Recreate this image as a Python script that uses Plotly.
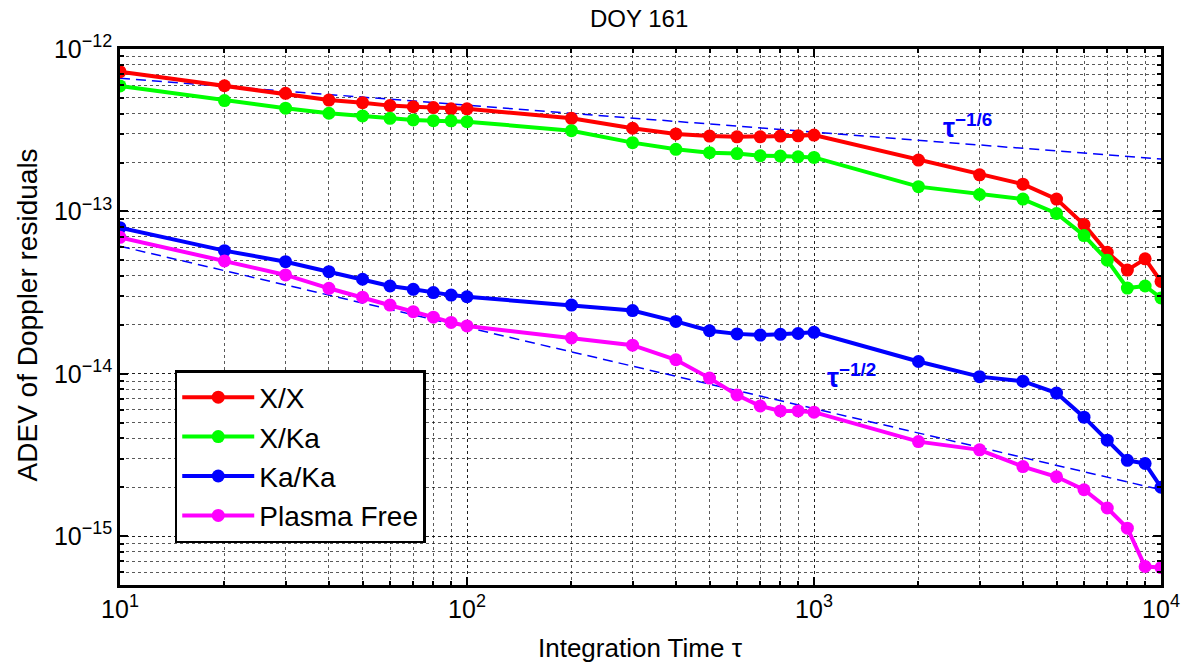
import plotly.graph_objects as go

tau = [10, 20, 30, 40, 50, 60, 70, 80, 90, 100, 200, 300, 400, 500, 600, 700, 800, 900,
       1000, 2000, 3000, 4000, 5000, 6000, 7000, 8000, 9000, 10000]

adev_xx = [7.25e-13, 5.94e-13, 5.33e-13, 4.85e-13, 4.67e-13, 4.48e-13, 4.41e-13, 4.36e-13,
           4.28e-13, 4.28e-13, 3.74e-13, 3.25e-13, 3.00e-13, 2.91e-13, 2.88e-13, 2.88e-13,
           2.91e-13, 2.92e-13, 2.95e-13, 2.07e-13, 1.68e-13, 1.47e-13, 1.19e-13, 8.3e-14,
           5.6e-14, 4.35e-14, 5.1e-14, 3.7e-14]
adev_xka = [5.92e-13, 4.81e-13, 4.32e-13, 4.02e-13, 3.87e-13, 3.74e-13, 3.66e-13, 3.62e-13,
            3.61e-13, 3.57e-13, 3.14e-13, 2.65e-13, 2.41e-13, 2.30e-13, 2.27e-13, 2.20e-13,
            2.19e-13, 2.17e-13, 2.15e-13, 1.42e-13, 1.27e-13, 1.19e-13, 9.7e-14, 7.1e-14,
            5.0e-14, 3.37e-14, 3.47e-14, 2.93e-14]
adev_kaka = [7.94e-14, 5.73e-14, 4.90e-14, 4.25e-14, 3.82e-14, 3.47e-14, 3.31e-14, 3.16e-14,
             3.05e-14, 2.98e-14, 2.65e-14, 2.45e-14, 2.10e-14, 1.84e-14, 1.76e-14, 1.73e-14,
             1.75e-14, 1.77e-14, 1.80e-14, 1.19e-14, 9.6e-15, 9.0e-15, 7.6e-15, 5.4e-15,
             3.9e-15, 2.93e-15, 2.8e-15, 2.0e-15]
adev_pf = [6.92e-14, 4.95e-14, 4.06e-14, 3.36e-14, 2.96e-14, 2.65e-14, 2.41e-14, 2.23e-14,
           2.07e-14, 1.97e-14, 1.66e-14, 1.50e-14, 1.22e-14, 9.4e-15, 7.4e-15, 6.33e-15,
           5.9e-15, 5.9e-15, 5.8e-15, 3.82e-15, 3.4e-15, 2.68e-15, 2.32e-15, 1.93e-15,
           1.49e-15, 1.12e-15, 6.5e-16, 6.4e-16]

series_names = ["X/X", "X/Ka", "Ka/Ka", "Plasma Free"]
series_colors = ["#ff0000", "#00ff00", "#0000ff", "#ff00ff"]

ref_tau = [10, 10000]
ref_m16 = [6.6e-13, 2.1e-13]     # tau^-1/6 guide
ref_m12 = [6.1e-14, 1.93e-15]    # tau^-1/2 guide

SUP = '<sup><span style="font-size:18px">{}</span></sup>'
x_tickvals = [10, 100, 1000, 10000]
x_ticktext = ["10" + SUP.format(e) for e in ["1", "2", "3", "4"]]
y_tickvals = [1e-15, 1e-14, 1e-13, 1e-12]
y_ticktext = ["10" + SUP.format("\u2212" + e) for e in ["15", "14", "13", "12"]]

FONT = "Liberation Sans, Arial, Helvetica, sans-serif"
NARROW = "Liberation Sans Narrow, Liberation Sans, Arial, sans-serif"

fig = go.Figure()

for yv in (ref_m16, ref_m12):
    fig.add_trace(go.Scatter(x=ref_tau, y=yv, mode="lines", showlegend=False,
                             line=dict(color="#0000ff", width=1.5, dash="10px,6px"),
                             hoverinfo="skip"))

for name, col, yv in zip(series_names, series_colors, [adev_xx, adev_xka, adev_kaka, adev_pf]):
    fig.add_trace(go.Scatter(x=tau, y=yv, mode="lines+markers", name=name,
                             line=dict(color=col, width=4),
                             marker=dict(color=col, size=13, symbol="circle")))

W, H = 1192, 666
L, R, T, B = 120, 26, 49, 81
pw, ph = W - L - R, H - T - B

def px(x):
    return (x - L) / pw

def py(y):
    return (H - B - y) / ph

grid_col = "rgba(0,0,0,0.65)"
axis_common = dict(
    type="log", showline=True, linecolor="black", linewidth=2.5, mirror="allticks",
    ticks="inside", ticklen=8, tickwidth=2, tickcolor="black",
    showgrid=True, gridcolor=grid_col, gridwidth=1, griddash="dot",
    zeroline=False,
    tickfont=dict(family=NARROW, size=25, color="black"),
    minor=dict(dtick="D1", ticks="inside", ticklen=4, tickwidth=1.5, tickcolor="black",
               showgrid=True, gridcolor=grid_col, gridwidth=1, griddash="dot"),
)

fig.update_layout(
    width=W, height=H,
    margin=dict(l=L, r=R, t=T, b=B),
    paper_bgcolor="white", plot_bgcolor="white",
    font=dict(family=FONT, color="black"),
    xaxis=dict(range=[1, 4], tickmode="array", tickvals=x_tickvals, ticktext=x_ticktext,
               **axis_common),
    yaxis=dict(range=[-15.301, -12], tickmode="array", tickvals=y_tickvals, ticktext=y_ticktext,
               **axis_common),
    showlegend=True,
    legend=dict(x=px(175), y=py(370), xanchor="left", yanchor="top",
                bgcolor="white", bordercolor="black", borderwidth=2.5,
                font=dict(family=FONT, size=28, color="black"),
                itemwidth=72, tracegroupgap=0),
)

fig.add_annotation(text="DOY 161", xref="paper", yref="paper", x=px(641), y=py(18),
                   xanchor="center", yanchor="middle", showarrow=False,
                   font=dict(family=FONT, size=24, color="black"))
fig.add_annotation(text="Integration Time \u03c4", xref="paper", yref="paper", x=0.5, y=py(648),
                   xanchor="center", yanchor="middle", showarrow=False,
                   font=dict(family=FONT, size=26, color="black"))
fig.add_annotation(text="ADEV of Doppler residuals", xref="paper", yref="paper", x=px(27), y=py(315),
                   xanchor="center", yanchor="middle", showarrow=False, textangle=-90,
                   font=dict(family=FONT, size=28, color="black"))
fig.add_annotation(text="<b>\u03c4<sup>\u22121/6</sup></b>", xref="paper", yref="paper",
                   x=px(945), y=py(126), xanchor="left", yanchor="middle", showarrow=False,
                   font=dict(family=FONT, size=27, color="#0000ff"))
fig.add_annotation(text="<b>\u03c4<sup>\u22121/2</sup></b>", xref="paper", yref="paper",
                   x=px(828), y=py(376), xanchor="left", yanchor="middle", showarrow=False,
                   font=dict(family=FONT, size=27, color="#0000ff"))

fig.write_html("out.html")
